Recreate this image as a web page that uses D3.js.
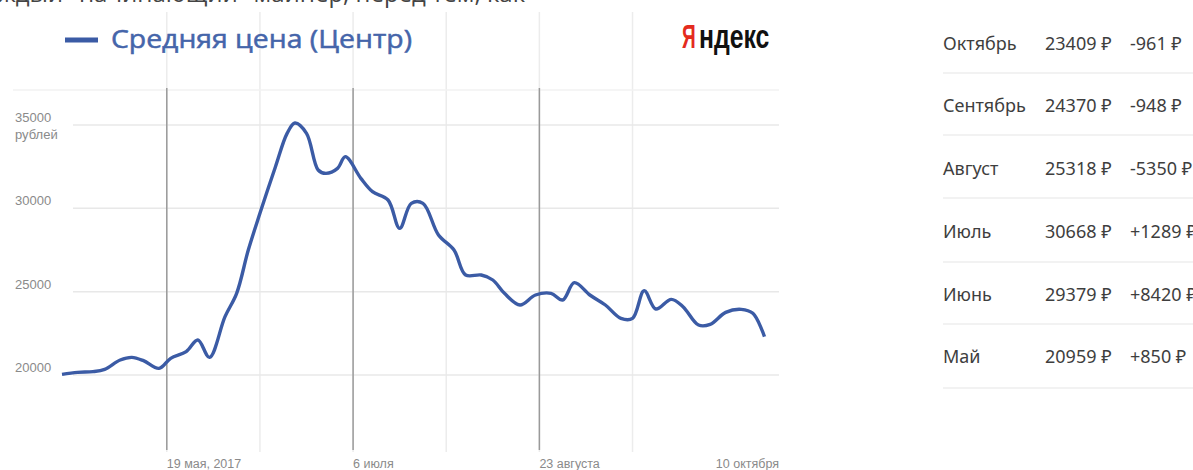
<!DOCTYPE html>
<html>
<head>
<meta charset="utf-8">
<script src="https://cdnjs.cloudflare.com/ajax/libs/d3/7.8.5/d3.min.js"></script>
<style>
  body { margin: 0; background: #fff; }
  svg { display: block; }
</style>
</head>
<body>
<div id="chart"></div>
<script>
// Data
const dates = ["2017-04-22","2017-04-26","2017-04-30","2017-05-03","2017-05-07","2017-05-10","2017-05-13","2017-05-17",
  "2017-05-20","2017-05-24","2017-05-27","2017-05-30","2017-06-03","2017-06-06","2017-06-09","2017-06-12",
  "2017-06-16","2017-06-19","2017-06-21","2017-06-24","2017-06-27","2017-06-29","2017-07-02","2017-07-04",
  "2017-07-08","2017-07-11","2017-07-15","2017-07-18","2017-07-21","2017-07-24","2017-07-28","2017-08-01",
  "2017-08-04","2017-08-08","2017-08-11","2017-08-14","2017-08-18","2017-08-22","2017-08-26","2017-08-29",
  "2017-09-01","2017-09-05","2017-09-09","2017-09-13","2017-09-16","2017-09-19","2017-09-22","2017-09-26",
  "2017-09-29","2017-10-03","2017-10-06","2017-10-10","2017-10-14","2017-10-17","2017-10-20"];
const prices = [20040,20160,20200,20340,20900,21060,20860,20400,
  21000,21400,22100,21060,23500,24900,27500,29700,
  32500,34500,35120,34500,32300,32100,32400,33100,
  31800,31000,30500,28800,30300,30300,28400,27500,
  26000,26000,25700,24900,24200,24800,24900,24500,
  25540,24800,24200,23400,23400,25060,23960,24540,
  24100,23000,23040,23760,23940,23700,22300];

const yTicks = [20000, 25000, 30000, 35000];
const majorDates = ["2017-05-19", "2017-07-06", "2017-08-23"];
const minorDates = ["2017-06-12", "2017-07-30", "2017-09-16"];
const xLabels = ["19 мая, 2017", "6 июля", "23 августа", "10 октября"];
const xLabelDates = ["2017-05-19", "2017-07-06", "2017-08-23", "2017-10-10"];

const months = ["Октябрь", "Сентябрь", "Август", "Июль", "Июнь", "Май"];
const monthPrices = ["23409 ₽", "24370 ₽", "25318 ₽", "30668 ₽", "29379 ₽", "20959 ₽"];
const monthChanges = ["-961 ₽", "-948 ₽", "-5350 ₽", "+1289 ₽", "+8420 ₽", "+850 ₽"];

const W = 1193, H = 470;
const parse = d3.timeParse("%Y-%m-%d");
const series = dates.map((d, i) => ({ date: parse(d), value: prices[i] }));

const svg = d3.select("#chart").append("svg")
  .attr("width", W).attr("height", H)
  .attr("font-family", "'Open Sans', 'Noto Sans', sans-serif");

// cut-off line of article text at the very top
svg.append("text")
  .attr("x", -2).attr("y", 2)
  .attr("font-size", 24).attr("fill", "#444")
  .text("ждый \"начинающий\" майнер, перед тем, как");

// scales
const x = d3.scaleTime()
  .domain([parse("2017-04-22"), parse("2017-10-20")])
  .range([62, 764.5]);
const y = d3.scaleLinear()
  .domain([20000, 35000])
  .range([375, 125]);

const plotLeft = 73, plotRight = 779;

// light vertical gridlines (also running up behind the legend)
svg.append("g").selectAll("line")
  .data(minorDates.concat(majorDates))
  .enter().append("line")
  .attr("x1", d => x(parse(d))).attr("x2", d => x(parse(d)))
  .attr("y1", 12).attr("y2", 452)
  .attr("stroke", "#ececec").attr("stroke-width", 1.5);

// separator under legend
svg.append("line")
  .attr("x1", 13).attr("x2", plotRight)
  .attr("y1", 90).attr("y2", 90)
  .attr("stroke", "#f2f2f2").attr("stroke-width", 1.5);

// horizontal gridlines
svg.append("g").selectAll("line")
  .data(yTicks)
  .enter().append("line")
  .attr("x1", plotLeft).attr("x2", plotRight)
  .attr("y1", d => y(d)).attr("y2", d => y(d))
  .attr("stroke", "#e8e8e8").attr("stroke-width", 1.5);

// dark vertical lines at labelled dates
svg.append("g").selectAll("line")
  .data(majorDates)
  .enter().append("line")
  .attr("x1", d => x(parse(d))).attr("x2", d => x(parse(d)))
  .attr("y1", 88).attr("y2", 450)
  .attr("stroke", "#9a9a9a").attr("stroke-width", 1.5);

// y labels
const axisFont = "'Liberation Sans Narrow', 'Liberation Sans', sans-serif";
svg.append("g").selectAll("text")
  .data(yTicks)
  .enter().append("text")
  .attr("x", 15).attr("y", d => y(d) - 3)
  .attr("font-size", 13).attr("fill", "#8a8a8a")
  .attr("font-family", axisFont)
  .text(d => d);
svg.append("text")
  .attr("x", 15).attr("y", y(35000) + 14)
  .attr("font-size", 13).attr("fill", "#8a8a8a")
  .attr("font-family", axisFont)
  .text("рублей");

// x labels
svg.append("g").selectAll("text")
  .data(xLabels)
  .enter().append("text")
  .attr("x", (d, i) => i === xLabels.length - 1 ? plotRight : x(parse(xLabelDates[i])))
  .attr("text-anchor", (d, i) => i === xLabels.length - 1 ? "end" : "start")
  .attr("y", 468)
  .attr("font-size", 12.5).attr("fill", "#8a8a8a")
  .attr("font-family", axisFont)
  .text(d => d);

// price line
svg.append("path")
  .datum(series)
  .attr("fill", "none")
  .attr("stroke", "#3b5ba5")
  .attr("stroke-width", 3.4)
  .attr("stroke-linejoin", "round")
  .attr("d", d3.line()
    .x(d => x(d.date))
    .y(d => y(d.value))
    .curve(d3.curveCatmullRom.alpha(0.5)));

// legend
svg.append("line")
  .attr("x1", 65).attr("x2", 98).attr("y1", 40).attr("y2", 40)
  .attr("stroke", "#3b5ba5").attr("stroke-width", 5);
svg.append("text")
  .attr("x", 111).attr("y", 48)
  .attr("font-size", 25).attr("fill", "#4565aa")
  .attr("stroke", "#4565aa").attr("stroke-width", 0.5)
  .attr("textLength", 301).attr("lengthAdjust", "spacingAndGlyphs")
  .text("Средняя цена (Центр)");

// Yandex logo (narrowed with a horizontal scale)
const logoFont = "'Liberation Sans', Arial, sans-serif";
svg.append("text")
  .attr("transform", "translate(682,48) scale(0.56,1)")
  .attr("font-size", 34).attr("font-weight", "bold")
  .attr("font-family", logoFont)
  .attr("fill", "#e42b1e")
  .text("Я");
svg.append("text")
  .attr("transform", "translate(699,48) scale(0.73,1)")
  .attr("font-size", 34).attr("font-weight", "bold")
  .attr("font-family", logoFont)
  .attr("fill", "#111")
  .text("ндекс");

// month table on the right
const rowY = [43, 105, 168, 231, 294, 356];
const sepY = [73, 135, 198, 262, 324, 388];
const table = svg.append("g")
  .attr("font-family", "'Noto Sans', 'Open Sans', sans-serif")
  .attr("font-size", 18).attr("fill", "#3e3e3e");

table.selectAll(".sep")
  .data(sepY)
  .enter().append("line")
  .attr("class", "sep")
  .attr("x1", 943).attr("x2", W)
  .attr("y1", d => d).attr("y2", d => d)
  .attr("stroke", "#eeeeee").attr("stroke-width", 1.5);

table.selectAll(".m")
  .data(months)
  .enter().append("text")
  .attr("class", "m")
  .attr("x", 943).attr("y", (d, i) => rowY[i] + 6.5)
  .text(d => d);
table.selectAll(".p")
  .data(monthPrices)
  .enter().append("text")
  .attr("class", "p")
  .attr("x", 1045).attr("y", (d, i) => rowY[i] + 6.5)
  .text(d => d);
table.selectAll(".c")
  .data(monthChanges)
  .enter().append("text")
  .attr("class", "c")
  .attr("x", 1130).attr("y", (d, i) => rowY[i] + 6.5)
  .text(d => d);
</script>
</body>
</html>
